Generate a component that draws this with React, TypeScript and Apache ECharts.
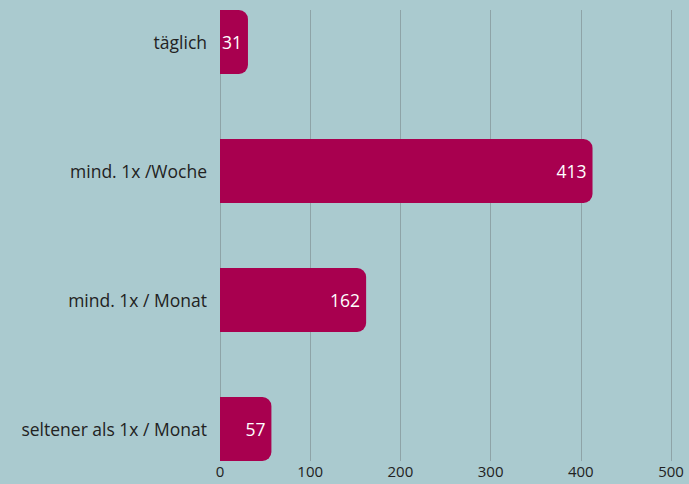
import React, { useEffect, useRef } from "react";
import * as echarts from "echarts";

const categories = ["täglich", "mind. 1x /Woche", "mind. 1x / Monat", "seltener als 1x / Monat"];
const values = [31, 413, 162, 57];
const xTicks = [0, 100, 200, 300, 400, 500];

export default function App() {
  const ref = useRef<HTMLDivElement>(null);
  useEffect(() => {
    if (!ref.current) return;
    const chart = echarts.init(ref.current, null, { renderer: "svg" });
    const font = "'Open Sans', 'Noto Sans', sans-serif";
    chart.setOption({
      animation: false,
      backgroundColor: "#aacacf",
      grid: [
        { left: 220, right: 18, top: 10, bottom: 23, outerBoundsMode: "none", containLabel: false },
        { left: 220, right: 18, top: -22.5, bottom: -9.5, outerBoundsMode: "none", containLabel: false },
      ],
      xAxis: [
        {
          gridIndex: 0,
          type: "value",
          min: xTicks[0],
          max: xTicks[xTicks.length - 1],
          interval: 100,
          axisLine: { show: false },
          axisTick: { show: false },
          splitLine: { show: true, lineStyle: { color: "#8ea3a7", width: 1 } },
          axisLabel: { margin: 2, color: "#222", fontSize: 15, fontFamily: font },
        },
        {
          gridIndex: 1,
          type: "value",
          min: xTicks[0],
          max: xTicks[xTicks.length - 1],
          show: false,
        },
      ],
      yAxis: [
        { gridIndex: 0, type: "value", show: false },
        {
          gridIndex: 1,
          type: "category",
          data: categories,
          inverse: true,
          axisLine: { show: false },
          axisTick: { show: false },
          splitLine: { show: false },
          axisLabel: { margin: 13, color: "#222", fontSize: 17.5, fontFamily: font },
        },
      ],
      series: [
        {
          type: "bar",
          xAxisIndex: 1,
          yAxisIndex: 1,
          data: values,
          barWidth: 64,
          itemStyle: { color: "#a8004f", borderRadius: [0, 9, 9, 0] },
          label: {
            show: true,
            position: "insideRight",
            distance: 6,
            color: "#ffffff",
            fontSize: 17.5,
            fontFamily: font,
          },
        },
      ],
    });
    return () => chart.dispose();
  }, []);
  return <div ref={ref} style={{ width: 689, height: 484, position: "absolute", left: 0, top: 0 }} />;
}
